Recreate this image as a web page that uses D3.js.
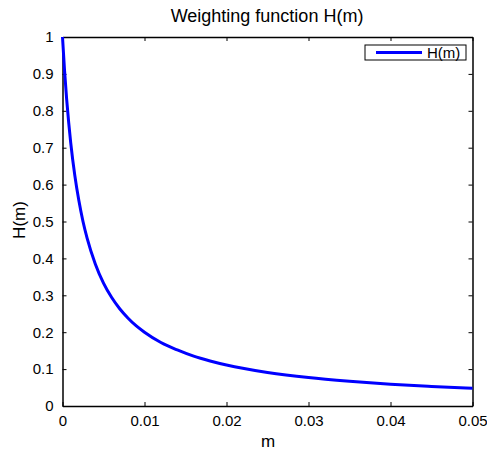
<!DOCTYPE html>
<html>
<head>
<meta charset="utf-8">
<script src="https://cdn.jsdelivr.net/npm/d3@7"></script>
<style>
  body { margin: 0; background: #fff; }
  text { font-family: "Liberation Sans", Arial, sans-serif; fill: #000; }
</style>
</head>
<body>
<svg id="chart" width="487" height="454"></svg>
<script>
// values
var mVals = [0, 0.00025, 0.0005, 0.00075, 0.001, 0.0015, 0.002, 0.0025, 0.003, 0.004, 0.005,
             0.006, 0.007, 0.008, 0.009, 0.01, 0.012, 0.014, 0.016, 0.018, 0.02,
             0.025, 0.03, 0.035, 0.04, 0.045, 0.05];
var hVals = [1, 0.909, 0.833, 0.769, 0.714, 0.625, 0.556, 0.5, 0.455, 0.385, 0.333,
             0.294, 0.263, 0.238, 0.217, 0.2, 0.172, 0.152, 0.135, 0.122, 0.111,
             0.091, 0.077, 0.067, 0.059, 0.053, 0.048];
var xTicks = [0, 0.01, 0.02, 0.03, 0.04, 0.05];
var yTicks = [0, 0.1, 0.2, 0.3, 0.4, 0.5, 0.6, 0.7, 0.8, 0.9, 1];

var pLeft = 62.5, pRight = 472.5, pTop = 37, pBottom = 406;

var svg = d3.select('#chart');

var x = d3.scaleLinear().domain([0, 0.05]).range([pLeft, pRight]);
var y = d3.scaleLinear().domain([0, 1]).range([pBottom, pTop]);

var fmt = function(d){ return d === 0 ? '0' : String(+d.toFixed(2)); };

// bottom + top axes, ticks pointing inward
svg.append('g').attr('transform', 'translate(0,' + pBottom + ')')
  .call(d3.axisBottom(x).tickValues(xTicks).tickSizeInner(-4).tickSizeOuter(0).tickPadding(9).tickFormat(fmt))
  .call(g => g.selectAll('text').attr('font-size', 15));
svg.append('g').attr('transform', 'translate(0,' + pTop + ')')
  .call(d3.axisTop(x).tickValues(xTicks).tickSizeInner(-4).tickSizeOuter(0).tickFormat(''));
svg.append('g').attr('transform', 'translate(' + pLeft + ',0)')
  .call(d3.axisLeft(y).tickValues(yTicks).tickSizeInner(-4).tickSizeOuter(0).tickPadding(9).tickFormat(fmt))
  .call(g => g.selectAll('text').attr('font-size', 15));
svg.append('g').attr('transform', 'translate(' + pRight + ',0)')
  .call(d3.axisRight(y).tickValues(yTicks).tickSizeInner(-4).tickSizeOuter(0).tickFormat(''));

svg.selectAll('.domain').attr('stroke', '#000').attr('stroke-width', 1.5);
svg.selectAll('.tick line').attr('stroke', '#000');
svg.selectAll('text').attr('font-family', '"Liberation Sans", Arial, sans-serif');

// curve
var pts = mVals.map((m, i) => ({m: m, h: hVals[i]}));
var line = d3.line().x(d => x(d.m)).y(d => y(d.h)).curve(d3.curveMonotoneX);
svg.append('path')
  .datum(pts)
  .attr('d', line)
  .attr('fill', 'none')
  .attr('stroke', '#0000ff')
  .attr('stroke-width', 3);

// legend
var lg = svg.append('g');
lg.append('rect').attr('x', 365).attr('y', 45).attr('width', 101).attr('height', 15)
  .attr('fill', '#fff').attr('stroke', '#000').attr('stroke-width', 1);
lg.append('line').attr('x1', 376).attr('x2', 422).attr('y1', 52.5).attr('y2', 52.5)
  .attr('stroke', '#0000ff').attr('stroke-width', 3);
lg.append('text').attr('x', 427).attr('y', 57.5).attr('font-size', 15).text('H(m)');

// title and labels
svg.append('text').attr('x', 267).attr('y', 22).attr('text-anchor', 'middle')
  .attr('font-size', 18).text('Weighting function H(m)');
svg.append('text').attr('x', 268).attr('y', 447).attr('text-anchor', 'middle')
  .attr('font-size', 17).text('m');
svg.append('text').attr('transform', 'translate(25,220) rotate(-90)').attr('text-anchor', 'middle')
  .attr('font-size', 17).text('H(m)');
</script>
</body>
</html>
